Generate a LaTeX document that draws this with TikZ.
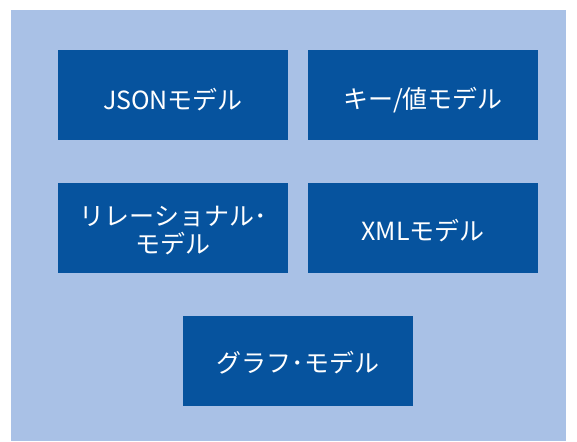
\documentclass[tikz,border=0pt]{standalone}
\usepackage{fontspec}
\setmainfont{Noto Sans CJK JP}
\definecolor{bgblue}{RGB}{169,193,230}
\definecolor{boxblue}{RGB}{6,83,158}
\newcommand{\lowtext}[2]{\raisebox{-#1pt}[\height][\depth]{#2}}
\begin{document}
\begin{tikzpicture}[x=1pt,y=-1pt,
  model/.style={draw=none,fill=boxblue,text=white,minimum width=230pt,minimum height=90pt,
    inner sep=0pt,align=center,font=\fontsize{25}{30}\selectfont}]
\useasboundingbox (0,0) rectangle (577,441);
\fill[white] (0,0) rectangle (577,441);
\fill[bgblue] (11,10) rectangle (566,441);
\node[model] (json) at (173,95) {\lowtext{5}{JSONモデル}};
\node[model] (kv) at (423,95) {\lowtext{5}{キー/値モデル}};
\node[model] (rel) at (173,227.5) {\lowtext{3}{\shortstack{リレーショナル･\\[3pt]モデル}}};
\node[model] (xml) at (423,227.5) {\lowtext{3}{XMLモデル}};
\node[model] (graph) at (298,360.5) {\lowtext{2}{グラフ･モデル}};
\end{tikzpicture}
\end{document}
